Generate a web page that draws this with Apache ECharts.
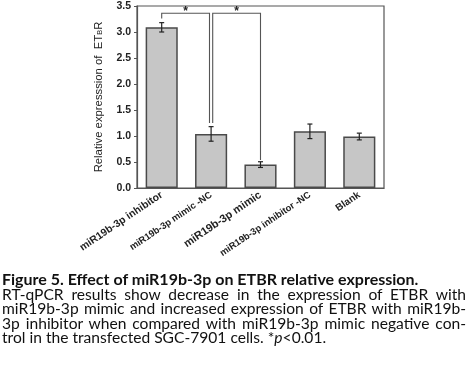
<!DOCTYPE html>
<html>
<head>
<meta charset="utf-8">
<script src="https://cdn.jsdelivr.net/npm/echarts@6/dist/echarts.min.js"></script>
<style>
  html, body { margin: 0; padding: 0; background: #fff; }
  #wrap { position: relative; width: 472px; height: 371px; overflow: hidden; }
  #chart { position: absolute; left: 0; top: 0; width: 472px; height: 270px; }
  #caption { position: absolute; left: 2px; top: 272px; width: 464px; font-family: Lato, "Open Sans", sans-serif; font-size: 15.6px; line-height: 14.6px; color: #111; }
  #caption .t { font-weight: bold; white-space: nowrap; font-size: 16px; }
  #caption .j { text-align: justify; text-align-last: justify; word-spacing: -1.5px; }
  #caption .l { text-align: left; white-space: nowrap; }
</style>
</head>
<body>
<div id="wrap">
  <div id="chart"></div>
  <div id="caption">
    <div class="t">Figure 5. Effect of miR19b-3p on ETBR relative expression.</div>
    <div class="j">RT-qPCR results show decrease in the expression of ETBR with</div>
    <div class="j">miR19b-3p mimic and increased expression of ETBR with miR19b-</div>
    <div class="j">3p inhibitor when compared with miR19b-3p mimic negative con-</div>
    <div class="l">trol in the transfected SGC-7901 cells. *<i>p</i>&lt;0.01.</div>
  </div>
</div>
<script>
var categories = ['miR19b-3p inhibitor', 'miR19b-3p mimic -NC', 'miR19b-3p mimic', 'miR19b-3p inhibitor -NC', 'Blank'];
var means = [3.09, 1.04, 0.45, 1.09, 0.99];
var errors = [0.09, 0.14, 0.055, 0.14, 0.065];
var yTicks = [0, 0.5, 1.0, 1.5, 2.0, 2.5, 3.0, 3.5];
// brackets: [fromIndex, toIndex, topValue, leftLegEnd, rightLegEnd]
var brackets = [
  [0, 1, 3.36, 3.26, 1.25],
  [1, 2, 3.36, 1.25, 0.54]
];
var labelStyles = ['a', 'b', 'c', 'b', 'd'];

var chart = echarts.init(document.getElementById('chart'), null, { renderer: 'canvas' });

var errData = categories.map(function (c, i) { return [i, means[i], errors[i]]; });
var FF = 'Liberation Sans, Arial, sans-serif';

var option = {
  animation: false,
  grid: { left: 137, top: 6, width: 247, height: 182, show: true, borderColor: '#555', borderWidth: 1.2, backgroundColor: 'transparent' },
  xAxis: {
    type: 'category',
    data: categories,
    axisLine: { lineStyle: { color: '#555', width: 1.2 } },
    axisTick: { alignWithLabel: true, length: 3, lineStyle: { color: '#555' } },
    axisLabel: {
      interval: 0,
      rotate: 34,
      margin: 6,
      color: '#222',
      fontFamily: FF,
      fontWeight: 'bold',
      formatter: function (v, i) { return '{' + labelStyles[i] + '|' + v + '}'; },
      rich: {
        a: { fontSize: 10.4, fontWeight: 'bold', fontFamily: FF, color: '#222' },
        b: { fontSize: 9.4, fontWeight: 'bold', fontFamily: FF, color: '#222' },
        c: { fontSize: 11, fontWeight: 'bold', fontFamily: FF, color: '#222' },
        d: { fontSize: 10, fontWeight: 'bold', fontFamily: FF, color: '#222' }
      }
    }
  },
  yAxis: {
    type: 'value',
    min: yTicks[0],
    max: yTicks[yTicks.length - 1],
    interval: 0.5,
    name: '{n|Relative expresssion of  ET}{s|B}{n|R}',
    nameLocation: 'middle',
    nameGap: 33,
    nameTextStyle: {
      rich: {
        n: { fontSize: 11.3, fontFamily: FF, color: '#222', lineHeight: 14, verticalAlign: 'bottom' },
        s: { fontSize: 7.5, fontFamily: FF, color: '#222', lineHeight: 14, verticalAlign: 'bottom' }
      }
    },
    splitLine: { show: false },
    axisLine: { show: true, lineStyle: { color: '#555', width: 1.2 } },
    axisTick: { show: true, length: 3, lineStyle: { color: '#555' } },
    axisLabel: {
      margin: 6,
      color: '#222',
      fontSize: 10.5,
      fontWeight: 'bold',
      fontFamily: FF,
      formatter: function (v) { return v.toFixed(1); }
    }
  },
  series: [
    {
      type: 'bar',
      data: means,
      barWidth: '65%',
      itemStyle: { color: '#c6c6c6', borderColor: '#4a4a4a', borderWidth: 1.5 }
    },
    {
      type: 'custom',
      data: errData,
      z: 5,
      renderItem: function (params, api) {
        var x = api.value(0), m = api.value(1), e = api.value(2);
        var hi = api.coord([x, m + e]);
        var lo = api.coord([x, m - e]);
        var w = 2.5;
        var st = { stroke: '#222', lineWidth: 1.2 };
        return {
          type: 'group',
          children: [
            { type: 'line', shape: { x1: hi[0], y1: hi[1], x2: lo[0], y2: lo[1] }, style: st },
            { type: 'line', shape: { x1: hi[0] - w, y1: hi[1], x2: hi[0] + w, y2: hi[1] }, style: st },
            { type: 'line', shape: { x1: lo[0] - w, y1: lo[1], x2: lo[0] + w, y2: lo[1] }, style: st }
          ]
        };
      }
    },
    {
      type: 'custom',
      data: brackets,
      z: 6,
      renderItem: function (params, api) {
        var a = api.value(0), b = api.value(1), top = api.value(2), le = api.value(3), re = api.value(4);
        var offA = params.dataIndex === 1 ? 1.6 : 0;
        var offB = params.dataIndex === 0 ? -1.6 : 0;
        var pTopA = api.coord([a, top]);
        var pTopB = api.coord([b, top]);
        var pA = api.coord([a, le]);
        var pB = api.coord([b, re]);
        var xa = pTopA[0] + offA, xb = pTopB[0] + offB;
        var st = { stroke: '#555', lineWidth: 1.1, fill: null };
        return {
          type: 'group',
          children: [
            { type: 'polyline', shape: { points: [[xa, pA[1]], [xa, pTopA[1]], [xb, pTopB[1]], [xb, pB[1]]] }, style: st },
            { type: 'text', style: { text: '*', x: (xa + xb) / 2, y: pTopA[1] + 4, textAlign: 'center', textVerticalAlign: 'bottom', fontSize: 12, fontWeight: 'bold', fontFamily: FF, fill: '#222' } }
          ]
        };
      }
    }
  ]
};
chart.setOption(option);
</script>
</body>
</html>
